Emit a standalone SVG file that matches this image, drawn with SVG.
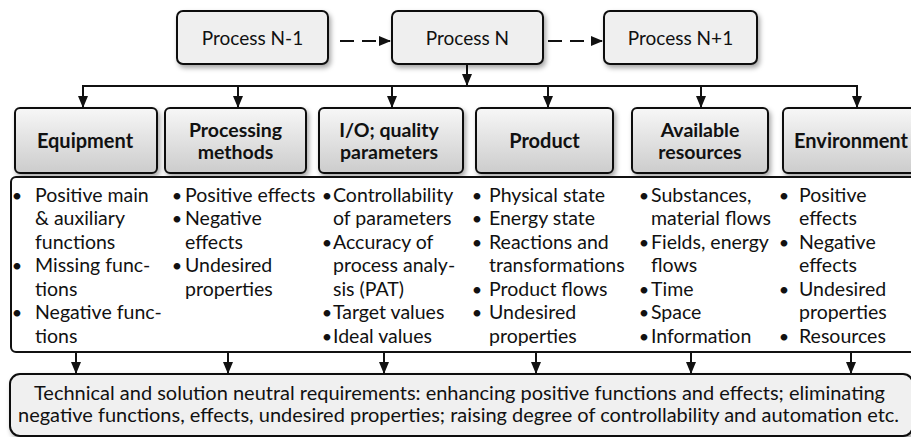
<svg xmlns="http://www.w3.org/2000/svg" width="911" height="437" viewBox="0 0 911 437">
<style>
text{font-family:Lato,"Liberation Sans",sans-serif;fill:#111;}
.proc{fill:#efefef;stroke:#111;stroke-width:2;}
.cat{fill:url(#catg);stroke:#111;stroke-width:2;}
.plabel{font-size:19px;text-anchor:middle;}
.clabel{font-size:20px;font-weight:bold;text-anchor:middle;}
.clabel2{font-size:19.5px;font-weight:bold;text-anchor:middle;}
.list{font-size:19.5px;}
.req{font-size:19.5px;}
.bul{font-size:18px;text-anchor:middle;}
.line{fill:none;stroke:#111;stroke-width:2;}
.dash{fill:none;stroke:#111;stroke-width:2;stroke-dasharray:14 8;}
</style>
<defs>
<linearGradient id="catg" x1="0" y1="0" x2="0" y2="1">
<stop offset="0" stop-color="#f7f7f7"/>
<stop offset="1" stop-color="#cccccc"/>
</linearGradient>
<filter id="sh" x="-10%" y="-10%" width="130%" height="140%">
<feDropShadow dx="2" dy="3" stdDeviation="2.5" flood-color="#000" flood-opacity="0.35"/>
</filter>
<marker id="ah" markerWidth="12" markerHeight="10" refX="11" refY="5" orient="auto" markerUnits="userSpaceOnUse">
<path d="M0,0 L12,5 L0,10 Z" fill="#111"/>
</marker>
</defs>

<g id="connectors">
<path class="dash" d="M340,41 H390" marker-end="url(#ah)"/>
<path class="dash" d="M548,41 H602" marker-end="url(#ah)"/>
<path class="line" d="M467,64 V85" marker-end="url(#ah)"/>
<path class="line" d="M83,107 V86 H857 V107" marker-end="url(#ah)"/>
<path class="line" d="M83,86 V107" marker-end="url(#ah)"/>
<path class="line" d="M238,86 V107" marker-end="url(#ah)"/>
<path class="line" d="M392,86 V107" marker-end="url(#ah)"/>
<path class="line" d="M548,86 V107" marker-end="url(#ah)"/>
<path class="line" d="M701,86 V107" marker-end="url(#ah)"/>
<path class="line" d="M76,353 V373" marker-end="url(#ah)"/>
<path class="line" d="M228,353 V373" marker-end="url(#ah)"/>
<path class="line" d="M384,353 V373" marker-end="url(#ah)"/>
<path class="line" d="M536,353 V373" marker-end="url(#ah)"/>
<path class="line" d="M691,353 V373" marker-end="url(#ah)"/>
<path class="line" d="M851,353 V373" marker-end="url(#ah)"/>
</g>

<g id="process-n-1">
<rect class="proc" x="177" y="11" width="151" height="53" rx="6" filter="url(#sh)"/>
<text class="plabel" x="252.5" y="45">Process N-1</text>
</g>
<g id="process-n">
<rect class="proc" x="392" y="11" width="151" height="53" rx="6" filter="url(#sh)"/>
<text class="plabel" x="467.5" y="45">Process N</text>
</g>
<g id="process-n1">
<rect class="proc" x="604" y="11" width="153" height="53" rx="6" filter="url(#sh)"/>
<text class="plabel" x="680.5" y="45">Process N+1</text>
</g>

<g id="equipment">
<rect class="cat" x="15" y="108" width="142" height="65" rx="5" filter="url(#sh)"/>
<text class="clabel" x="85" y="148">Equipment</text>
</g>
<g id="processing-methods">
<rect class="cat" x="165" y="108" width="141" height="65" rx="5" filter="url(#sh)"/>
<text class="clabel2" x="235.5" y="136.5">Processing</text>
<text class="clabel2" x="235.5" y="159">methods</text>
</g>
<g id="io-quality">
<rect class="cat" x="319" y="108" width="144" height="65" rx="5" filter="url(#sh)"/>
<text class="clabel2" x="389" y="136.5">I/O; quality</text>
<text class="clabel2" x="389" y="159">parameters</text>
</g>
<g id="product">
<rect class="cat" x="476" y="108" width="137" height="65" rx="5" filter="url(#sh)"/>
<text class="clabel" x="544.5" y="148">Product</text>
</g>
<g id="available-resources">
<rect class="cat" x="632" y="108" width="136" height="65" rx="5" filter="url(#sh)"/>
<text class="clabel2" x="700" y="136.5">Available</text>
<text class="clabel2" x="700" y="159">resources</text>
</g>
<g id="environment">
<rect class="cat" x="783" y="108" width="136" height="65" rx="5" filter="url(#sh)"/>
<text class="clabel" x="851" y="148">Environment</text>
</g>

<g id="details">
<rect x="11" y="177" width="910" height="175" rx="5" fill="#fff" stroke="#111" stroke-width="2"/>
<text class="bul" x="17" y="201.5">•</text>
<text class="bul" x="17" y="272">•</text>
<text class="bul" x="17" y="319">•</text>
<text class="list" x="35"><tspan x="35" y="201.5">Positive main</tspan><tspan x="35" y="225">&amp; auxiliary</tspan><tspan x="35" y="248.5">functions</tspan><tspan x="35" y="272">Missing func-</tspan><tspan x="35" y="295.5">tions</tspan><tspan x="35" y="319">Negative func-</tspan><tspan x="35" y="342.5">tions</tspan></text>

<text class="bul" x="177" y="201.5">•</text>
<text class="bul" x="177" y="225">•</text>
<text class="bul" x="177" y="272">•</text>
<text class="list" x="185"><tspan x="185" y="201.5">Positive effects</tspan><tspan x="185" y="225">Negative</tspan><tspan x="185" y="248.5">effects</tspan><tspan x="185" y="272">Undesired</tspan><tspan x="185" y="295.5">properties</tspan></text>

<text class="bul" x="327" y="201.5">•</text>
<text class="bul" x="327" y="248.5">•</text>
<text class="bul" x="327" y="319">•</text>
<text class="bul" x="327" y="342.5">•</text>
<text class="list" x="333"><tspan x="333" y="201.5">Controllability</tspan><tspan x="333" y="225">of parameters</tspan><tspan x="333" y="248.5">Accuracy of</tspan><tspan x="333" y="272">process analy-</tspan><tspan x="333" y="295.5">sis (PAT)</tspan><tspan x="333" y="319">Target values</tspan><tspan x="333" y="342.5">Ideal values</tspan></text>

<text class="bul" x="477" y="201.5">•</text>
<text class="bul" x="477" y="225">•</text>
<text class="bul" x="477" y="248.5">•</text>
<text class="bul" x="477" y="295.5">•</text>
<text class="bul" x="477" y="319">•</text>
<text class="list" x="489"><tspan x="489" y="201.5">Physical state</tspan><tspan x="489" y="225">Energy state</tspan><tspan x="489" y="248.5">Reactions and</tspan><tspan x="489" y="272">transformations</tspan><tspan x="489" y="295.5">Product flows</tspan><tspan x="489" y="319">Undesired</tspan><tspan x="489" y="342.5">properties</tspan></text>

<text class="bul" x="644" y="201.5">•</text>
<text class="bul" x="644" y="248.5">•</text>
<text class="bul" x="644" y="295.5">•</text>
<text class="bul" x="644" y="319">•</text>
<text class="bul" x="644" y="342.5">•</text>
<text class="list" x="651"><tspan x="651" y="201.5">Substances,</tspan><tspan x="651" y="225">material flows</tspan><tspan x="651" y="248.5">Fields, energy</tspan><tspan x="651" y="272">flows</tspan><tspan x="651" y="295.5">Time</tspan><tspan x="651" y="319">Space</tspan><tspan x="651" y="342.5">Information</tspan></text>

<text class="bul" x="784" y="201.5">•</text>
<text class="bul" x="784" y="248.5">•</text>
<text class="bul" x="784" y="295.5">•</text>
<text class="bul" x="784" y="342.5">•</text>
<text class="list" x="799"><tspan x="799" y="201.5">Positive</tspan><tspan x="799" y="225">effects</tspan><tspan x="799" y="248.5">Negative</tspan><tspan x="799" y="272">effects</tspan><tspan x="799" y="295.5">Undesired</tspan><tspan x="799" y="319">properties</tspan><tspan x="799" y="342.5">Resources</tspan></text>
</g>

<g id="requirements">
<rect x="10" y="374" width="903" height="62" rx="10" fill="#f0f0f0" stroke="#111" stroke-width="2" filter="url(#sh)"/>
<text class="req" x="459.5" y="400" text-anchor="middle" textLength="851" lengthAdjust="spacingAndGlyphs">Technical and solution neutral requirements: enhancing positive functions and effects; eliminating</text>
<text class="req" x="458.5" y="422" text-anchor="middle" textLength="881" lengthAdjust="spacingAndGlyphs">negative functions, effects, undesired properties; raising degree of controllability and automation etc.</text>
</g>
</svg>
